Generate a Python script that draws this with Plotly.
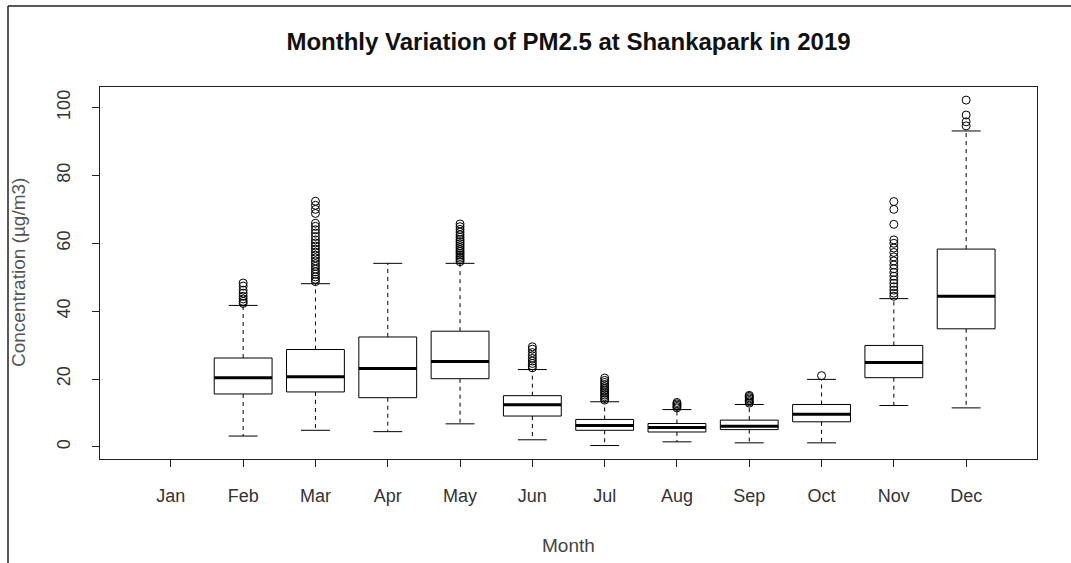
import plotly.graph_objects as go

# Monthly PM2.5 summary statistics (µg/m3), Shankapark 2019
months = ["Jan", "Feb", "Mar", "Apr", "May", "Jun", "Jul", "Aug", "Sep", "Oct", "Nov", "Dec"]
lower_whisker = [None, 3.2, 4.9, 4.5, 6.8, 2.1, 0.4, 1.5, 1.2, 1.2, 12.2, 11.5]
q1 = [None, 15.6, 16.2, 14.5, 20.1, 9.1, 4.9, 4.4, 5.1, 7.4, 20.4, 34.8]
median = [None, 20.4, 20.7, 23.1, 25.2, 12.4, 6.3, 5.7, 6.1, 9.6, 24.9, 44.4]
q3 = [None, 26.2, 28.7, 32.4, 34.1, 15.1, 8.1, 6.9, 7.9, 12.5, 29.9, 58.3]
upper_whisker = [None, 41.7, 48.1, 54.1, 54.1, 22.8, 13.3, 11.0, 12.5, 19.9, 43.7, 93.1]

outliers = {
    "Feb": [42.3, 42.9, 43.6, 44.4, 45.3, 46.2, 47.4, 48.3],
    "Mar": [48.7, 49.4, 50.1, 50.9, 51.6, 52.4, 53.2, 54.0, 54.8, 55.7, 56.5, 57.4,
            58.3, 59.2, 60.1, 61.0, 62.0, 63.0, 64.0, 65.0, 65.9, 68.8, 70.0, 71.2, 72.4],
    "May": [54.6, 55.1, 55.6, 56.1, 56.6, 57.1, 57.6, 58.1, 58.7, 59.3, 59.9, 60.5,
            61.1, 61.8, 62.5, 63.3, 64.1, 64.9, 65.7],
    "Jun": [23.3, 23.9, 24.6, 25.3, 26.1, 26.9, 27.8, 28.8, 29.5],
    "Jul": [13.8, 14.3, 14.8, 15.3, 15.8, 16.3, 16.8, 17.3, 17.8, 18.4, 19.0, 19.6, 20.3],
    "Aug": [11.5, 11.9, 12.3, 12.7, 13.1],
    "Sep": [12.9, 13.3, 13.7, 14.1, 14.5, 14.9, 15.2],
    "Oct": [21.0],
    "Nov": [44.4, 45.3, 46.2, 47.2, 48.2, 49.2, 50.3, 51.4, 52.5, 53.6, 54.8, 56.0,
            57.3, 58.6, 60.0, 61.0, 65.6, 70.0, 72.3],
    "Dec": [94.6, 95.8, 97.8, 102.2],
}

BOX_HALF = 0.4     # half of the box width (x units)
CAP_HALF = 0.2     # half of the whisker cap width
INK = "#000000"

box_x, box_y = [], []
med_x, med_y = [], []
wh_x, wh_y = [], []
cap_x, cap_y = [], []
out_x, out_y = [], []

for i, m in enumerate(months):
    pos = i + 1
    if q1[i] is not None:
        box_x += [pos - BOX_HALF, pos + BOX_HALF, pos + BOX_HALF, pos - BOX_HALF, pos - BOX_HALF, None]
        box_y += [q1[i], q1[i], q3[i], q3[i], q1[i], None]
        med_x += [pos - BOX_HALF, pos + BOX_HALF, None]
        med_y += [median[i], median[i], None]
        wh_x += [pos, pos, None, pos, pos, None]
        wh_y += [q3[i], upper_whisker[i], None, q1[i], lower_whisker[i], None]
        cap_x += [pos - CAP_HALF, pos + CAP_HALF, None, pos - CAP_HALF, pos + CAP_HALF, None]
        cap_y += [upper_whisker[i], upper_whisker[i], None, lower_whisker[i], lower_whisker[i], None]
    for v in outliers.get(m, []):
        out_x.append(pos)
        out_y.append(v)

fig = go.Figure()
fig.add_trace(go.Scatter(x=wh_x, y=wh_y, mode="lines",
                         line=dict(color=INK, width=1, dash="4px,4px"), hoverinfo="skip"))
fig.add_trace(go.Scatter(x=cap_x, y=cap_y, mode="lines",
                         line=dict(color=INK, width=1), hoverinfo="skip"))
fig.add_trace(go.Scatter(x=box_x, y=box_y, mode="lines", fill="toself", fillcolor="white",
                         line=dict(color=INK, width=1), hoverinfo="skip"))
fig.add_trace(go.Scatter(x=med_x, y=med_y, mode="lines",
                         line=dict(color=INK, width=3), hoverinfo="skip"))
fig.add_trace(go.Scatter(x=out_x, y=out_y, mode="markers",
                         marker=dict(symbol="circle-open", size=8, color=INK,
                                     line=dict(width=1, color=INK)),
                         hoverinfo="y"))

font_family = "Liberation Sans, Arial, sans-serif"

fig.update_layout(
    width=1071, height=563,
    margin=dict(l=100, r=34, t=87, b=104),
    paper_bgcolor="white", plot_bgcolor="white",
    showlegend=False,
    font=dict(family=font_family, color="#333333"),
    title=dict(text="<b>Monthly Variation of PM2.5 at Shankapark in 2019</b>",
               x=0.5, xref="paper", xanchor="center",
               y=1 - 42 / 563, yanchor="middle",
               font=dict(size=24, color="#111111", family=font_family)),
    xaxis=dict(range=[0.02, 12.98], tickmode="array",
               tickvals=list(range(1, len(months) + 1)), ticktext=months,
               showgrid=False, zeroline=False,
               showline=True, mirror=True, linecolor="#222222", linewidth=1,
               ticks="outside", ticklen=7, tickcolor="#222222",
               ticklabelstandoff=13,
               tickfont=dict(size=18, color="#333333")),
    yaxis=dict(range=[-3.56, 106.06], tickmode="array",
               tickvals=[0, 20, 40, 60, 80, 100],
               showgrid=False, zeroline=False,
               showline=True, mirror=True, linecolor="#222222", linewidth=1,
               ticks="outside", ticklen=7, tickcolor="#222222",
               tickangle=-90, ticklabelstandoff=15,
               tickfont=dict(size=18, color="#333333")),
    annotations=[
        dict(text="Month", xref="paper", yref="paper",
             x=0.5, y=(459 - 545) / 372, xanchor="center", yanchor="middle",
             showarrow=False, font=dict(size=19, color="#444444")),
        dict(text="Concentration (µg/m3)", xref="paper", yref="paper",
             x=(18 - 100) / 937, y=0.5, xanchor="center", yanchor="middle",
             textangle=-90, showarrow=False, font=dict(size=19, color="#555555")),
    ],
    shapes=[
        # outer page frame: top and left edges
        dict(type="line", xref="paper", yref="paper",
             x0=(8 - 100) / 937, x1=(1071 - 100) / 937,
             y0=(459 - 6) / 372, y1=(459 - 6) / 372,
             line=dict(color="#222222", width=1.5)),
        dict(type="line", xref="paper", yref="paper",
             x0=(8 - 100) / 937, x1=(8 - 100) / 937,
             y0=(459 - 6) / 372, y1=(459 - 563) / 372,
             line=dict(color="#222222", width=1.5)),
    ],
)

fig.write_html("out.html")
